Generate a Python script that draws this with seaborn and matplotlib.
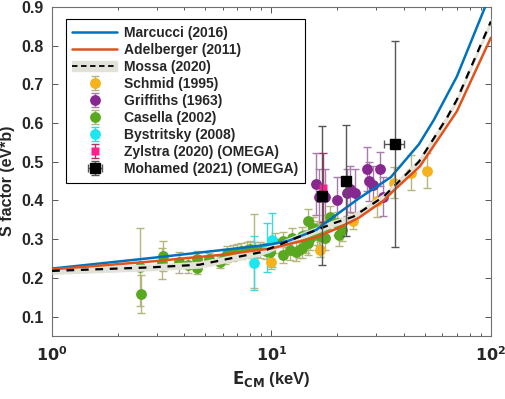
import matplotlib.pyplot as plt
import matplotlib.patches as mpatches
from matplotlib.lines import Line2D
import seaborn as sns
import numpy as np

# theory curves (E in keV, S in eV*b)
marcucci_e = [1, 2.8, 8, 10, 12, 16, 20, 25, 35, 47, 55, 70, 95, 100]
marcucci_s = [0.224, 0.251, 0.280, 0.287, 0.296, 0.324, 0.365, 0.405, 0.460, 0.545, 0.608, 0.720, 0.905, 0.95]

adelberger_e = [1, 2.8, 5.8, 10, 16, 20, 25, 32.5, 36, 47.5, 70, 100]
adelberger_s = [0.222, 0.242, 0.259, 0.276, 0.305, 0.328, 0.355, 0.400, 0.425, 0.488, 0.630, 0.820]

mossa_e = [1, 2.8, 4.7, 8.9, 13.5, 19.2, 23.6, 32.5, 47, 63, 70, 100]
mossa_s = [0.218, 0.227, 0.234, 0.266, 0.307, 0.341, 0.358, 0.410, 0.500, 0.613, 0.660, 0.862]
mossa_band = 0.009

# data sets
schmid_e = [9.97, 16.6, 23.5, 30.2, 36.0, 43.3, 50.9]
schmid_s = [0.242, 0.273, 0.347, 0.398, 0.445, 0.472, 0.477]
schmid_err = [0.02, 0.02, 0.02, 0.04, 0.04, 0.045, 0.045]

griffiths_e = [16.0, 16.4, 17.5, 20.0, 22.0, 22.9, 24.0, 27.3, 27.7, 29.0, 31.3, 32.4]
griffiths_s = [0.443, 0.41, 0.41, 0.40, 0.42, 0.43, 0.42, 0.481, 0.449, 0.44, 0.481, 0.41]
griffiths_err = [0.08, 0.07, 0.07, 0.06, 0.06, 0.06, 0.06, 0.057, 0.05, 0.05, 0.045, 0.05]

casella_e = [2.52, 2.55, 3.16, 3.2, 3.79, 4.18, 4.57, 4.6, 5.18, 5.84, 6.15, 6.3, 6.7, 7.0,
             7.3, 7.7, 8.0, 8.3, 8.4, 8.9, 9.4, 9.85, 10.4, 11.3, 11.3, 12.2, 12.4, 13.0,
             13.3, 13.8, 13.8, 14.3, 14.6, 14.7, 15.0, 15.5, 16.1, 16.4, 16.6, 17.6, 17.6,
             18.5, 19.9, 20.4, 21.0]
casella_s = [0.228, 0.158, 0.238, 0.256, 0.240, 0.233, 0.226, 0.250, 0.248, 0.241, 0.255, 0.262,
             0.264, 0.268, 0.270, 0.272, 0.274, 0.270, 0.273, 0.272, 0.270, 0.268, 0.290, 0.294,
             0.259, 0.272, 0.303, 0.268, 0.272, 0.307, 0.277, 0.294, 0.348, 0.290, 0.303, 0.328,
             0.316, 0.311, 0.307, 0.303, 0.333, 0.356, 0.341, 0.311, 0.324]
casella_err = [0.10, 0.05, 0.04, 0.038, 0.028, 0.02, 0.015, 0.02, 0.015, 0.015, 0.02, 0.02,
               0.02, 0.02, 0.02, 0.02, 0.02, 0.095, 0.02, 0.02, 0.02, 0.02, 0.025, 0.025,
               0.02, 0.025, 0.025, 0.025, 0.02, 0.025, 0.025, 0.03, 0.03, 0.03, 0.03, 0.03,
               0.03, 0.03, 0.03, 0.03, 0.03, 0.03, 0.03, 0.03, 0.03]

bystritsky_e = [8.29, 9.52, 10.1]
bystritsky_s = [0.238, 0.278, 0.298]
bystritsky_err = [0.07, 0.064, 0.07]

zylstra_e = [17.1]
zylstra_s = [0.433]
zylstra_err = [0.09]

mohamed_e = [16.96, 21.9, 36.4]
mohamed_s = [0.412, 0.451, 0.545]
mohamed_err = [0.179, 0.143, 0.266]
mohamed_xerr = [0.7, 1.0, 3.8]

sns.set_style('ticks')
plt.rcParams['font.family'] = ['Liberation Sans', 'DejaVu Sans']
plt.rcParams['font.weight'] = 'bold'
plt.rcParams['mathtext.default'] = 'bf'

fig, ax = plt.subplots(figsize=(5.05, 3.99), dpi=100)
fig.subplots_adjust(left=0.103, right=0.972, bottom=0.158, top=0.983)

ms = 7.8
cap = 3
olive = '#b4b77c'

ax.errorbar(schmid_e, schmid_s, yerr=schmid_err, fmt='o', color='#f5b21a', ecolor=olive,
            ms=ms, mec='none', capsize=cap, elinewidth=1, zorder=3, label='Schmid (1995)')
ax.errorbar(griffiths_e, griffiths_s, yerr=griffiths_err, fmt='o', color='#86288f', ecolor='#a77cab',
            ms=ms, mec='none', capsize=cap, elinewidth=1, zorder=3, label='Griffiths (1963)')
ax.errorbar(casella_e, casella_s, yerr=casella_err, fmt='o', color='#5aa81f', ecolor=olive,
            ms=ms, mec='none', capsize=cap, elinewidth=1, zorder=3, label='Casella (2002)')
ax.errorbar(bystritsky_e, bystritsky_s, yerr=bystritsky_err, fmt='o', color='#1de6ee', ecolor='#3cd8e0',
            ms=ms, mec='none', capsize=cap, elinewidth=1, zorder=3, label='Bystritsky (2008)')
ax.errorbar(zylstra_e, zylstra_s, yerr=zylstra_err, fmt='s', color='#ff1f8e', ecolor='#b0306a',
            ms=5.5, mec='none', capsize=cap, elinewidth=1, zorder=4, label='Zylstra (2020) (OMEGA)')

# theory curves
ax.fill_between(mossa_e, np.array(mossa_s) - mossa_band, np.array(mossa_s) + mossa_band,
                color='#e2e2d8', lw=0, zorder=4)
sns.lineplot(x=marcucci_e, y=marcucci_s, color='#0072bd', lw=1.8, ax=ax, zorder=5)
sns.lineplot(x=adelberger_e, y=adelberger_s, color='#e0531c', lw=1.8, ax=ax, zorder=5)
sns.lineplot(x=mossa_e, y=mossa_s, color='black', lw=1.6, ax=ax, zorder=5, linestyle=(0, (3.5, 3)))

ax.errorbar(mohamed_e, mohamed_s, yerr=mohamed_err, xerr=mohamed_xerr, fmt='s', color='black',
            ecolor='#555555', ms=6.5, capsize=cap, elinewidth=1, zorder=6, label='Mohamed (2021) (OMEGA)')

ax.set_xscale('log')
ax.set_xlim(1, 100)
ax.set_ylim(0.05, 0.9)
ax.set_yticks(np.arange(0.1, 0.91, 0.1))
ax.set_yticklabels(['0.1', '0.2', '0.3', '0.4', '0.5', '0.6', '0.7', '0.8', '0.9'])
ax.set_xticks([1, 10, 100])
ax.set_xticklabels([r'$\mathbf{10^{0}}$', r'$\mathbf{10^{1}}$', r'$\mathbf{10^{2}}$'])
ax.tick_params(axis='both', which='both', direction='in', top=True, right=True,
               color='#555555', labelsize=11.5, width=0.7)
ax.tick_params(axis='both', which='major', length=4, pad=6)
ax.tick_params(axis='x', which='minor', length=2.5)
ax.tick_params(axis='x', which='major', pad=7)
for s in ax.spines.values():
    s.set_color('#707070')
    s.set_linewidth(0.8)

ax.set_xlabel(r'$\mathbf{E_{CM}}$ (keV)', fontsize=12, fontweight='bold', labelpad=3)
ax.set_ylabel('S factor (eV*b)', fontsize=11.5, fontweight='bold', labelpad=3)
ax.yaxis.set_label_coords(-0.085, 0.47)

h, l = ax.get_legend_handles_labels()
handles = [Line2D([], [], color='#0072bd', lw=1.8),
           Line2D([], [], color='#e0531c', lw=1.8),
           (mpatches.Patch(color='#e2e2d8'), Line2D([], [], color='black', lw=1.3, linestyle=(0, (3, 2))))]
labels = ['Marcucci (2016)', 'Adelberger (2011)', 'Mossa (2020)']
leg = ax.legend(handles + h, labels + l, loc='upper left', bbox_to_anchor=(0.015, 0.985),
                fontsize=10, handlelength=3.2, labelspacing=0.22, borderpad=0.5,
                fancybox=False, framealpha=1, edgecolor='black', handletextpad=0.5)
leg.get_frame().set_linewidth(0.8)
for t in leg.get_texts():
    t.set_fontweight('bold')

plt.savefig('out.png', dpi=100)
plt.close()
